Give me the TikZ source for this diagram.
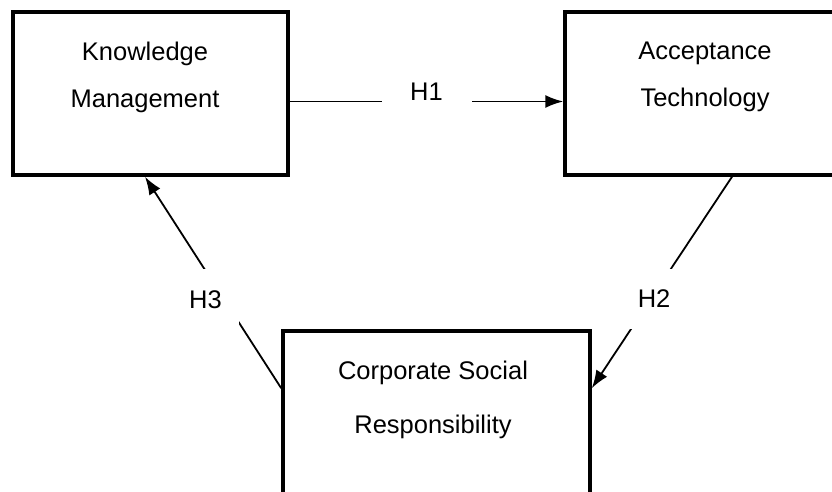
\documentclass[tikz,border=0pt]{standalone}
\usepackage{fontspec}
\setmainfont{Liberation Sans}
\usetikzlibrary{arrows.meta, positioning}

\begin{document}
\begin{tikzpicture}[x=1pt, y=-1pt,
    construct/.style={draw, rectangle, line width=3.5pt, inner sep=0pt},
    constext/.style={align=center, inner sep=0pt, font=\fontsize{25.5}{47}\selectfont},
    hyp/.style={fill=white, inner sep=0pt, minimum width=68pt, minimum height=60pt,
      font=\fontsize{25.5}{30}\selectfont},
    link/.style={draw, line width=1.8pt, -{Latex[length=18pt, width=13pt]}}
  ]
  \useasboundingbox (0,0) rectangle (832,492);
  \clip (0,0) rectangle (832,492);
  % boxes
  \node[construct, minimum width=275pt, minimum height=163pt] (KM) at (150.5,93.5) {};
  \node[construct, minimum width=280pt, minimum height=163pt] (AT) at (705,93.5) {};
  \node[construct, minimum width=307pt, minimum height=200pt] (CSR) at (436.5,431) {};
  \node[constext] (KMtext) at (145,77) {Knowledge\\Management};
  \node[constext] (ATtext) at (705,77) {Acceptance\\Technology};
  \node[constext, font=\fontsize{25.5}{54}\selectfont] (CSRtext) at (433,399.5) {Corporate Social\\Responsibility};
  % hypotheses
  \draw[link] ([yshift=-8pt]KM.east) -- node[hyp, midway, yshift=10pt, minimum width=90pt, minimum height=44pt] {H1} ([yshift=-8pt]AT.west);
  \draw[link] ([xshift=27pt]AT.south) -- node[hyp, pos=0.577, xshift=3pt] {H2} ([yshift=-59pt]CSR.north east);
  \draw[link] ([yshift=-59pt]CSR.north west) -- node[hyp, pos=0.42, xshift=-18.6pt] {H3} ([xshift=-5.5pt]KM.south);
\end{tikzpicture}
\end{document}
